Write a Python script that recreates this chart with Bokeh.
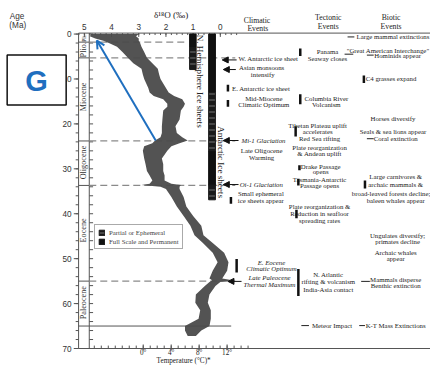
import numpy as np
from bokeh.plotting import figure
from bokeh.models import (Range1d, Arrow, NormalHead, OpenHead, Legend, LegendItem,
                          ColumnDataSource)
from bokeh.core.properties import value
from bokeh.embed import file_html
from bokeh.resources import INLINE

# ---------------- data ----------------
# deep-sea benthic d18O record (Ma), heavy edge and light edge of the scatter band
age = [0.0, 0.5, 1.0, 1.5, 2.0, 2.8, 4.0, 5.3, 6.5, 7.7, 9.0, 10.0, 12.0, 13.0, 13.8,
       14.5, 15.5, 16.2, 17.0, 19.0, 20.5, 22.0, 23.0, 23.7, 24.3, 25.0, 26.0, 27.7,
       29.0, 30.5, 31.5, 32.6, 33.3, 33.6, 34.0, 34.5, 36.3, 38.4, 40.5, 42.7, 44.8,
       46.5, 48.7, 50.8, 52.7, 54.4, 54.8, 55.2, 56.1, 58.0, 59.8, 61.5, 63.4, 65.0,
       66.0, 67.2]
d18o_high = [4.75, 4.8, 4.6, 4.3, 4.1, 3.8, 3.6, 3.4, 3.2, 2.9, 2.85, 2.8, 2.65, 2.6, 2.45,
             2.1, 1.95, 1.95, 2.1, 2.13, 2.15, 2.15, 2.2, 2.4, 2.5, 2.8, 2.85, 2.8,
             2.75, 2.7, 2.6, 2.5, 2.6, 2.9, 2.2, 2.0, 1.8, 1.6, 1.35, 1.1, 0.95,
             0.64, 0.28, 0.1, 0.28, 0.4, 0.3, 0.4, 0.57, 0.9, 0.92, 0.74, 0.8, 1.3,
             1.3, 1.2]
d18o_low = [3.0, 3.1, 3.0, 3.0, 2.95, 2.9, 2.8, 2.7, 2.5, 2.3, 2.25, 2.2, 2.0, 1.9, 1.7,
            1.4, 1.3, 1.35, 1.45, 1.5, 1.65, 1.6, 1.4, 1.2, 1.5, 1.8, 1.95, 2.15,
            2.1, 2.1, 2.05, 2.05, 1.8, 1.45, 1.5, 1.5, 1.35, 1.25, 1.0, 0.7, 0.62,
            0.28, -0.14, -0.3, -0.25, -0.07, -0.45, 0.0, 0.18, 0.4, 0.46, 0.35, 0.35, 0.4,
            0.7, 0.9]

epoch_names = ["Plio.", "Miocene", "Oligocene", "Eocene", "Paleocene"]
epoch_label_age = [3.5, 14.0, 28.6, 43.7, 59.8]
epoch_bounds = [1.8, 5.3, 23.8, 33.7, 55.0, 65.0]
event_lines_dashed = [1.8, 5.3, 23.8, 33.7, 55.0]
kt_boundary = [65.0]

age_ticks = [0, 10, 20, 30, 40, 50, 60, 70]
age_minor = list(range(0, 71, 2))
d18o_ticks = [5, 4, 3, 2, 1, 0]
d18o_minor = [round(v, 1) for v in np.arange(-0.6, 5.21, 0.2)]
temp_ticks = [0, 4, 8, 12]
temp_minor = list(range(-7, 16))

# ice sheets (age top, age bottom)
nh_full = [(0.0, 3.0)]
nh_partial = [(3.0, 7.9)]
ant_full = [(0.0, 13.0), (26.0, 33.6)]
ant_partial = [(13.0, 26.0), (33.6, 36.9)]

# temperature scale of the bottom axis (ice-free ocean), T = T0 - K * d18O
T0, K = 11.03, 3.89
def t2d(t):
    return (T0 - t) / K

# ---------------- figure ----------------
XL, XR = 8.085, -7.730        # canvas edges in d18O units
YB, YT = 75.12, -7.469        # canvas edges in Ma
p = figure(width=430, height=371, output_backend="svg", toolbar_location=None,
           x_range=Range1d(XL, XR), y_range=Range1d(YB, YT),
           x_axis_location=None, y_axis_location=None,
           min_border=0, min_border_left=0, min_border_right=0, min_border_top=0,
           min_border_bottom=0)
p.xgrid.visible = False
p.ygrid.visible = False
p.outline_line_color = None
p.background_fill_color = "white"
p.border_fill_color = "white"

SANS = "Liberation Sans"
SERIF = "Liberation Serif"
AX = "#555555"
TXT = "#222222"

D_AXIS = 5.213      # left (age) axis line
D_INNER = 4.82      # inner frame line
A_TOP = -0.213      # top frame line
A_BOT = 70.0        # bottom frame line

def seg(x0, x1, y0, y1, color=AX, width=1, dash="solid"):
    p.segment(x0=x0, x1=x1, y0=y0, y1=y1, line_color=color, line_width=width, line_dash=dash)

def txt(texts, xs, ys, size="6.8px", font=SERIF, align="center", style="normal", color=TXT,
        angle=0.0):
    p.text(x=xs, y=ys, text=texts, text_font=value(font), text_font_size=value(size),
           text_align=align, text_baseline="middle", text_font_style=style,
           text_color=color, angle=angle)

# frame lines
seg([D_AXIS, D_AXIS, D_INNER, D_AXIS], [XR, XR, D_INNER, D_AXIS],
    [A_TOP, A_BOT, A_TOP, A_TOP], [A_TOP, A_BOT, A_BOT, A_BOT])

# left age axis
n, m = len(age_ticks), len(age_minor)
seg([5.39] * n, [D_AXIS] * n, age_ticks, age_ticks)
seg([5.32] * m, [D_AXIS] * m, age_minor, age_minor)
txt([str(a) for a in age_ticks], [5.47] * n, age_ticks, size="8.2px", font=SANS,
    align="right", color="#333333")
# inner ticks
seg([D_INNER] * m, [4.68] * m, age_minor, age_minor)

# top d18O axis
seg(d18o_ticks, d18o_ticks, [A_TOP] * 6, [0.64] * 6)
seg(d18o_minor, d18o_minor, [A_TOP] * len(d18o_minor), [0.22] * len(d18o_minor))
txt([str(t) for t in d18o_ticks], d18o_ticks, [-1.62] * 6, size="8.2px", font=SANS,
    color="#333333")
txt(["δ¹⁸O (‰)"], [1.81], [-4.2], size="9.1px")
txt(["Age"], [7.48], [-3.84], size="8.2px", font=SANS, color="#333333")
txt(["(Ma)"], [7.45], [-1.92], size="8.2px", font=SANS, color="#333333")

# bottom temperature axis
tmaj = [t2d(t) for t in temp_ticks]
tmin = [t2d(t) for t in temp_minor]
seg(tmaj, tmaj, [69.1] * len(tmaj), [70.4] * len(tmaj))
seg(tmin, tmin, [69.35] * len(tmin), [A_BOT] * len(tmin))
txt([f"{t}°" for t in temp_ticks], tmaj, [71.0] * len(tmaj), size="7.2px")
txt(["Temperature (°C)*"], [1.35], [72.75], size="7.2px")

# epoch column
k = len(epoch_bounds)
seg([D_AXIS] * k, [D_INNER] * k, epoch_bounds, epoch_bounds)
txt(epoch_names, [5.02] * len(epoch_names), epoch_label_age, size="8.2px",
    color="#333333", angle=np.pi / 2)
txt(["Plt."], [5.02], [0.9], size="5.5px", color="#333333", angle=np.pi / 2)

# event boundary lines
ends = [1.2] + [-0.55] * (len(event_lines_dashed) - 1)
seg([D_INNER] * len(event_lines_dashed), ends, event_lines_dashed, event_lines_dashed,
    color="#8a8a8a", width=1.2, dash="7 4")
seg([D_INNER], [-0.4], kt_boundary, kt_boundary, color="#555555")

# d18O curve
p.harea(y=age, x1=d18o_low, x2=d18o_high, fill_color="#4a4a4a", fill_alpha=0.95)

# ice sheets
NH_X = (1.13, 0.89)
ANT_X = (0.43, 0.18)
def quads(segs, xs):
    return dict(left=[xs[0]] * len(segs), right=[xs[1]] * len(segs),
                top=[s[0] for s in segs], bottom=[s[1] for s in segs])
keys = ("left", "right", "top", "bottom")
full_src = {c: quads(nh_full, NH_X)[c] + quads(ant_full, ANT_X)[c] for c in keys}
part_src = {c: quads(nh_partial, NH_X)[c] + quads(ant_partial, ANT_X)[c] for c in keys}
r_full = p.quad(source=ColumnDataSource(full_src), left="left", right="right", top="top",
                bottom="bottom", fill_color="#111111", line_color="#111111")
r_part = p.quad(source=ColumnDataSource(part_src), left="left", right="right", top="top",
                bottom="bottom", fill_color="#1a1a1a", line_color="#1a1a1a",
                hatch_pattern="horizontal_line", hatch_color="#9a9a9a", hatch_scale=6,
                hatch_weight=0.7)
txt(["N. Hemisphere Ice sheets"], [0.74], [10.5], size="9.1px", angle=-np.pi / 2)
txt(["Antarctic Ice sheets"], [-0.035], [28.5], size="9.1px", angle=-np.pi / 2)

legend = Legend(items=[LegendItem(label="Partial or Ephemeral", renderers=[r_part]),
                       LegendItem(label="Full Scale and Permanent", renderers=[r_full])],
                location=(94, 122), label_text_font=SERIF, label_text_font_size="6.8px",
                glyph_width=7, glyph_height=7, label_height=8, label_standoff=4, spacing=1,
                padding=3, margin=0, border_line_color="#555555", border_line_width=1)
p.add_layout(legend)

# ---------------- event annotations ----------------
def put_text(rows, align, italic=False, size="6.8px"):
    txt([r[0] for r in rows], [r[1] for r in rows], [r[2] for r in rows], size=size,
        align=align, style="italic" if italic else "normal")

# column headers
put_text([("Climatic", -1.35, -2.99), ("Events", -1.38, -1.28),
          ("Tectonic", -3.97, -3.63), ("Events", -3.97, -1.71),
          ("Biotic", -6.28, -3.63), ("Events", -6.28, -1.71)], "center", size="7.7px")

put_text([("W. Antarctic ice sheet", -0.67, 5.55), ("E. Antarctic ice sheet", -0.43, 12.16)], "left")
put_text([("Asian monsoons", -1.52, 7.47), ("intensify", -1.56, 8.96),
          ("Mid-Miocene", -1.6, 14.3), ("Climatic Optimum", -1.6, 15.6),
          ("Late Oligocene", -1.52, 26.0), ("Warming", -1.52, 27.5),
          ("Small ephemeral", -1.49, 35.6), ("ice sheets appear", -1.49, 37.1)], "center")
put_text([("Mi-1 Glaciation", -0.78, 23.7), ("Oi-1 Glaciation", -0.71, 33.5)], "left", italic=True)
put_text([("E. Eocene", -1.88, 50.8), ("Climatic Optimum", -1.88, 52.3),
          ("Late Paleocene", -1.81, 54.2), ("Thermal Maximum", -1.81, 55.7)], "center", italic=True)

put_text([("Panama", -3.94, 3.84), ("Seaway closes", -3.94, 5.34),
          ("Columbia River", -3.90, 14.3), ("Volcanism", -3.90, 15.6),
          ("Tibetan Plateau uplift", -3.58, 20.3), ("accelerates", -3.58, 21.6),
          ("Red Sea rifting", -3.65, 23.3),
          ("Plate reorganization", -3.65, 25.2), ("& Andean uplift", -3.65, 26.5),
          ("Drake Passage", -3.69, 29.4), ("opens", -3.69, 30.7),
          ("Tasmania-Antarctic", -3.65, 32.4), ("Passage opens", -3.65, 33.7),
          ("Plate reorganization &", -3.65, 38.4), ("Reduction in seafloor", -3.65, 39.9),
          ("spreading rates", -3.65, 41.4),
          ("N. Atlantic", -3.97, 53.6), ("rifting & volcanism", -3.97, 55.1),
          ("India-Asia contact", -3.97, 56.8)], "center")
put_text([("Meteor Impact", -3.37, 64.9)], "left")

put_text([("Large mammal extinctions", -6.35, 0.64),
          ("\"Great American Interchange\"", -6.17, 3.63),
          ("Hominids appear", -6.52, 4.69),
          ("C4 grasses expand", -6.28, 10.0),
          ("Horses diversify", -6.35, 18.8),
          ("Seals & sea lions appear", -6.35, 21.6),
          ("Coral extinction", -6.45, 23.3),
          ("Large carnivores &", -6.45, 31.6), ("archaic mammals &", -6.45, 33.5),
          ("broad-leaved forests decline;", -6.28, 35.4), ("baleen whales appear", -6.45, 37.1),
          ("Ungulates diversify;", -6.52, 44.8), ("primates decline", -6.52, 46.1),
          ("Archaic whales", -6.45, 48.7), ("appear", -6.45, 49.9),
          ("Mammals disperse", -6.45, 54.6), ("Benthic extinction", -6.45, 55.9),
          ("K-T Mass Extinctions", -6.45, 64.9)], "center")

bars = [(-0.28, 11.3, 12.8), (-0.28, 14.7, 16.2), (-0.39, 36.3, 37.8), (-0.60, 50.1, 53.1),
        (-2.94, 3.2, 4.9), (-2.94, 13.4, 15.6), (-2.77, 20.5, 22.8), (-2.91, 29.2, 30.3),
        (-2.87, 32.2, 33.7), (-2.80, 39.1, 41.0), (-2.87, 52.3, 58.3),
        (-5.28, 9.2, 10.9), (-5.32, 32.6, 34.4)]
seg([b[0] for b in bars], [b[0] for b in bars], [b[1] for b in bars], [b[2] for b in bars],
    color="#111111", width=2.5)

dashes = [(-4.68, -4.93, 0.64), (-4.57, -4.89, 4.48), (-5.39, -5.64, 4.69),
          (-5.39, -5.64, 23.3), (-5.18, -5.50, 55.06), (-5.11, -5.32, 64.9),
          (-2.98, -3.26, 64.9)]
seg([d[0] for d in dashes], [d[1] for d in dashes], [d[2] for d in dashes],
    [d[2] for d in dashes], color=TXT)

arrows = [(-0.60, -0.07, 5.76), (-0.57, -0.11, 7.9), (-0.67, -0.11, 23.7),
          (-0.67, -0.11, 33.5), (-0.78, -0.28, 55.06)]
for xs, xe, yy in arrows:
    p.add_layout(Arrow(x_start=xs, y_start=yy, x_end=xe, y_end=yy, line_color="#111111",
                       line_width=1,
                       end=NormalHead(size=6, fill_color="#111111", line_color="#111111")))

# reviewer annotation: boxed "G" and arrow
p.quad(left=[7.84], right=[5.67], top=[4.69], bottom=[15.79], fill_color="white",
       line_color="#111111", line_width=1.5)
txt(["G"], [6.76], [10.5], size="29px", font=SANS, style="bold", color="#1f6fbf")
p.add_layout(Arrow(x_start=2.376, y_start=23.69, x_end=4.54, y_end=1.43,
                   line_color="#1f6fbf", line_width=2,
                   end=OpenHead(size=8, line_color="#1f6fbf", line_width=2)))

open("out.html", "w").write(file_html(p, INLINE))
